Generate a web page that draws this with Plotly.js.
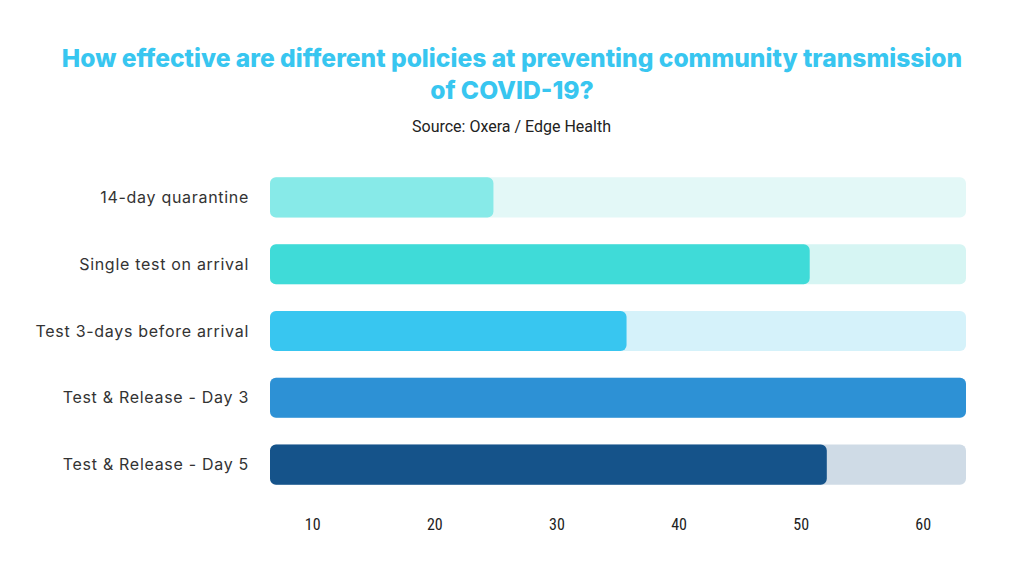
<!DOCTYPE html>
<html><head><meta charset="utf-8">
<script src="https://cdn.plot.ly/plotly-3.0.1.min.js"></script>
<style>html,body{margin:0;padding:0;background:#fff;}#chart{width:1024px;height:576px;}
#chart .ytick text{letter-spacing:0.7px;}
</style>
</head><body><div id="chart"></div>
<script>
const categories = ["14-day quarantine","Single test on arrival","Test 3-days before arrival","Test & Release - Day 3","Test & Release - Day 5"];
const values = [24.8, 50.7, 35.7, 63.5, 52.1];
const scaleMin = 6.5;
const scaleMax = 63.5;
const tickValues = [10, 20, 30, 40, 50, 60];
const tickLabels = ["10", "20", "30", "40", "50", "60"];
const barColors = ["#87EAE8", "#3FDBD8", "#38C6F0", "#2D91D5", "#15538A"];
const trackColors = ["#E3F8F7", "#D6F5F3", "#D5F2FA", "#D7EAF6", "#CFDBE6"];

const track = {
  type: "bar", orientation: "h",
  y: categories,
  x: categories.map(() => scaleMax - scaleMin),
  base: scaleMin,
  marker: {color: trackColors},
  width: 0.6, hoverinfo: "skip", showlegend: false
};
const bars = {
  type: "bar", orientation: "h",
  y: categories,
  x: values.map(v => v - scaleMin),
  base: scaleMin,
  marker: {color: barColors},
  width: 0.6, hoverinfo: "skip", showlegend: false
};

const layout = {
  width: 1024, height: 576,
  paper_bgcolor: "#ffffff", plot_bgcolor: "#ffffff",
  margin: {l: 270, r: 58, t: 163.5, b: 77.5},
  barmode: "overlay",
  barcornerradius: 6,
  title: {
    text: "How effective are different policies at preventing community transmission<br>of COVID-19?",
    font: {family: "Inter, sans-serif", size: 24.6, weight: 800, color: "#38C6F0"},
    x: 0.5, xanchor: "center", y: 0.883, yanchor: "middle"
  },
  annotations: [{
    text: "Source: Oxera / Edge Health",
    xref: "paper", yref: "paper", x: 0.3477, y: 1, yshift: 38, xanchor: "center", yanchor: "middle",
    showarrow: false,
    font: {family: "Roboto, sans-serif", size: 16, color: "#222222"}
  }],
  xaxis: {
    range: [scaleMin, scaleMax],
    tickvals: tickValues, ticktext: tickLabels,
    showgrid: false, zeroline: false, showline: false, ticks: "",
    ticklabelstandoff: 15,
    tickfont: {family: "Roboto Condensed, Roboto, sans-serif", size: 16, color: "#222222"},
    fixedrange: true
  },
  yaxis: {
    autorange: "reversed",
    showgrid: false, zeroline: false, showline: false, ticks: "",
    ticklabelstandoff: 20,
    tickfont: {family: "Inter, sans-serif", size: 16, color: "#333333"},
    fixedrange: true
  }
};
Plotly.newPlot("chart", [track, bars], layout, {displayModeBar: false, staticPlot: true});
</script>
</body></html>
